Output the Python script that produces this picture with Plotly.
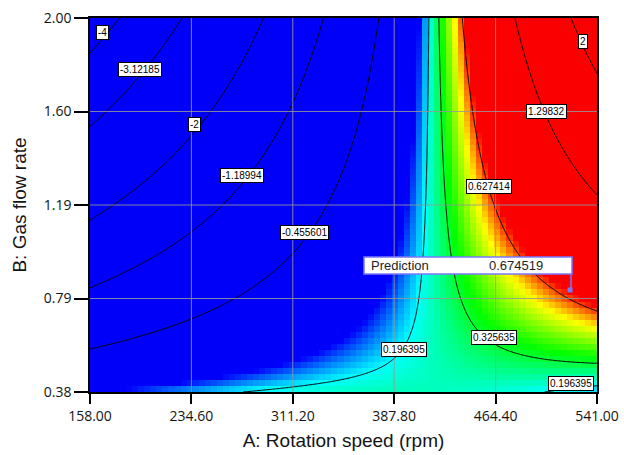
import numpy as np
import plotly.graph_objects as go

# ---------------- data ----------------
a_range = [158.0, 541.0]
b_range = [0.38, 2.00]
a_tickvals = [158.00, 234.60, 311.20, 387.80, 464.40, 541.00]
a_ticktext = ["158.00", "234.60", "311.20", "387.80", "464.40", "541.00"]
b_tickvals = [0.38, 0.785, 1.19, 1.595, 2.00]
b_ticktext = ["0.38", "0.79", "1.19", "1.60", "2.00"]

# response-surface model coefficients (coded units)
coef_intercept = -0.344
coef_A = 1.71
coef_B = -0.58
coef_AB = 1.66
coef_A2 = -0.126
coef_B2 = 0.0
a_center, a_half = 349.5, 191.5
b_center, b_half = 1.19, 0.81

contour_levels = [-4, -3.12185, -2, -1.18994, -0.455601,
                  0.196395, 0.325635, 0.627414, 1.29832, 2]
label_texts = ["-4", "-3.12185", "-2", "-1.18994", "-0.455601",
               "0.196395", "0.196395", "0.325635", "0.627414", "1.29832", "2"]
label_a = [167.1, 195.8, 237.3, 272.8, 320.4, 395.2, 521.4, 463.2, 459.4, 502.5, 530.4]
label_b = [1.939, 1.779, 1.537, 1.316, 1.073, 0.566, 0.419, 0.614, 1.272, 1.597, 1.900]

pred_a = 520.6
pred_b = 0.822
pred_label = "Prediction"
pred_value = "0.674519"

# colour ramp: response values at which blue, cyan, green, yellow, red are reached
ramp_values = [0.07, 0.196, 0.36, 0.53, 0.66]
ramp_colors = ["rgb(0,0,250)", "rgb(0,255,255)", "rgb(0,255,0)",
               "rgb(255,255,0)", "rgb(250,0,0)"]


def model(A, B):
    x = (A - a_center) / a_half
    y = (B - b_center) / b_half
    return (coef_intercept + coef_A * x + coef_B * y + coef_AB * x * y
            + coef_A2 * x ** 2 + coef_B2 * y ** 2)


zmin, zmax = ramp_values[0], ramp_values[-1]
colorscale = [[(v - zmin) / (zmax - zmin), c] for v, c in zip(ramp_values, ramp_colors)]

# coarse grid for the coloured map (blocky like the original)
nx, ny = 84, 62
dx = (a_range[1] - a_range[0]) / nx
dy = (b_range[1] - b_range[0]) / ny
hx = a_range[0] + dx * (np.arange(nx) + 0.5)
hy = b_range[0] + dy * (np.arange(ny) + 0.5)
HX, HY = np.meshgrid(hx, hy)
HZ = model(HX, HY)

# fine grid for contour lines
fx = np.linspace(a_range[0], a_range[1], 400)
fy = np.linspace(b_range[0], b_range[1], 400)
FX, FY = np.meshgrid(fx, fy)
FZ = model(FX, FY)

fig = go.Figure()
fig.add_trace(go.Heatmap(
    x=hx, y=hy, z=HZ, zmin=zmin, zmax=zmax, zsmooth=False,
    colorscale=colorscale, showscale=False, hoverinfo="skip"))

for lvl in contour_levels:
    fig.add_trace(go.Contour(
        x=fx, y=fy, z=FZ, autocontour=False,
        contours=dict(start=lvl, end=lvl, size=1, coloring="none"),
        line=dict(color="black", width=1), showscale=False,
        hoverinfo="skip"))

# grid lines above the colour map
grid_col = "rgba(150,150,150,0.85)"
shapes = []
for v in a_tickvals[1:-1]:
    shapes.append(dict(type="line", xref="x", yref="paper", x0=v, x1=v, y0=0, y1=1,
                       line=dict(color=grid_col, width=1), layer="above"))
for v in b_tickvals[1:-1]:
    shapes.append(dict(type="line", xref="paper", yref="y", x0=0, x1=1, y0=v, y1=v,
                       line=dict(color=grid_col, width=1), layer="above"))

# prediction flag
flag_col = "rgb(120,120,255)"
shapes.append(dict(type="rect", xref="x", yref="y", xsizemode="pixel", ysizemode="pixel",
                   xanchor=pred_a, yanchor=pred_b, x0=-206, x1=2, y0=16, y1=33,
                   line=dict(color=flag_col, width=1.5), fillcolor="white", layer="above"))
shapes.append(dict(type="line", xref="x", yref="y", xsizemode="pixel", ysizemode="pixel",
                   xanchor=pred_a, yanchor=pred_b, x0=1, x1=1, y0=0, y1=16,
                   line=dict(color=flag_col, width=1.5), layer="above"))

fig.add_trace(go.Scatter(x=[pred_a], y=[pred_b], mode="markers",
                         marker=dict(symbol="square", size=5, color=flag_col),
                         hoverinfo="skip", showlegend=False))

annotations = []
for t, a, b in zip(label_texts, label_a, label_b):
    annotations.append(dict(x=a, y=b, xref="x", yref="y", text=t, showarrow=False,
                            font=dict(family="Liberation Sans, Arial", size=10, color="black"),
                            bgcolor="white", bordercolor="black", borderwidth=1, borderpad=1))
annotations.append(dict(x=pred_a, y=pred_b, xref="x", yref="y", text=pred_label,
                        showarrow=False, xanchor="left", yanchor="middle",
                        xshift=-201, yshift=24,
                        font=dict(family="Liberation Sans, Arial", size=13, color="rgb(30,30,30)")))
annotations.append(dict(x=pred_a, y=pred_b, xref="x", yref="y", text=pred_value,
                        showarrow=False, xanchor="left", yanchor="middle",
                        xshift=-83, yshift=24,
                        font=dict(family="Liberation Sans, Arial", size=13, color="rgb(30,30,30)")))

fig.update_layout(
    width=624, height=455, margin=dict(l=90, r=27, t=18, b=63),
    paper_bgcolor="white", plot_bgcolor="white", showlegend=False,
    shapes=shapes, annotations=annotations,
    xaxis=dict(range=a_range, tickvals=a_tickvals, ticktext=a_ticktext,
               showgrid=False, zeroline=False, showline=True, mirror=True,
               linecolor="black", linewidth=1.5, ticks="outside", ticklen=10,
               tickwidth=1.5, tickcolor="black", layer="above traces",
               automargin=False,
               tickfont=dict(family="Open Sans", size=14, color="rgb(20,20,20)"),
               title=dict(text="A: Rotation speed (rpm)", standoff=10,
                          font=dict(family="Liberation Sans, Arial", size=19, color="rgb(20,20,20)"))),
    yaxis=dict(range=b_range, tickvals=b_tickvals, ticktext=b_ticktext,
               showgrid=False, zeroline=False, showline=True, mirror=True,
               linecolor="black", linewidth=1.5, ticks="outside", ticklen=14,
               tickwidth=1.5, tickcolor="black", layer="above traces",
               automargin=False,
               tickfont=dict(family="Open Sans", size=14, color="rgb(20,20,20)"),
               title=dict(text="B: Gas flow rate", standoff=12,
                          font=dict(family="Liberation Sans, Arial", size=19, color="rgb(20,20,20)"))),
)

fig.write_html("out.html")
